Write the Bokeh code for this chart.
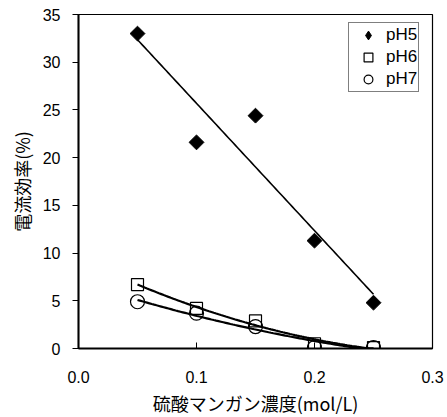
import numpy as np
from bokeh.plotting import figure
from bokeh.models import Range1d, FixedTicker, Legend, LegendItem
from bokeh.embed import file_html
from bokeh.resources import INLINE

conc = [0.05, 0.10, 0.15, 0.20, 0.25]
ph5 = [33.0, 21.6, 24.4, 11.3, 4.8]
ph6 = [6.7, 4.2, 2.9, 0.5, 0.1]
ph7 = [4.9, 3.7, 2.3, 0.1, 0.1]
x_ticks = [0.0, 0.1, 0.2, 0.3]
y_ticks = [0, 5, 10, 15, 20, 25, 30, 35]

p = figure(frame_width=354, frame_height=334, output_backend="svg", toolbar_location=None,
           x_range=Range1d(0, 0.3), y_range=Range1d(0, 35),
           min_border_left=78, min_border_right=15, min_border_top=14, min_border_bottom=66)
p.grid.visible = False
p.outline_line_color = "black"
p.outline_line_width = 1.2

xs = np.linspace(conc[0], conc[-1], 100)
c5 = np.polyfit(conc, ph5, 1)
c6 = np.polyfit(conc, ph6, 2)
c7 = np.polyfit(conc, ph7, 2)
p.line(xs, np.polyval(c5, xs), line_color="black", line_width=1.6)
p.line(xs, np.clip(np.polyval(c6, xs), 0, None), line_color="black", line_width=2.2)
p.line(xs, np.clip(np.polyval(c7, xs), 0, None), line_color="black", line_width=2.2)

r5 = p.scatter(conc, ph5, marker="square", size=10.5, angle=np.pi / 4,
               fill_color="black", line_color="black")
r6 = p.scatter(conc, ph6, marker="square", size=12, fill_color="white",
               fill_alpha=0, line_color="black", line_width=1.2)
r7 = p.scatter(conc, ph7, marker="circle", size=14, fill_color="white",
               fill_alpha=0, line_color="black", line_width=1.2)
# legend-only renderer (diamond swatch); NaN point is not drawn in the plot
l5 = p.scatter([np.nan], [np.nan], marker="diamond", fill_color="black", line_color="black")

font = "Liberation Sans"
jp = "Noto Sans CJK JP"
for ax in (p.xaxis[0], p.yaxis[0]):
    ax.axis_line_width = 2
    ax.axis_line_color = "black"
    ax.major_tick_line_color = "black"
    ax.major_tick_line_width = 1
    ax.minor_tick_line_color = None
    ax.major_label_text_font = font
    ax.major_label_text_font_size = "16px"
    ax.major_label_text_color = "black"
    ax.axis_label_text_font = jp
    ax.axis_label_text_font_size = "18px"
    ax.axis_label_text_font_style = "normal"
    ax.axis_label_text_color = "black"

p.xaxis.ticker = FixedTicker(ticks=x_ticks)
p.xaxis.major_label_overrides = {t: f"{t:.1f}" for t in x_ticks}
p.xaxis.major_tick_in = 6
p.xaxis.major_tick_out = 0
p.xaxis.major_label_standoff = 22
p.xaxis.axis_label = "硫酸マンガン濃度(mol/L)"
p.xaxis.axis_label_standoff = 4

p.yaxis.ticker = FixedTicker(ticks=y_ticks)
p.yaxis.major_tick_in = 0
p.yaxis.major_tick_out = 6
p.yaxis.major_label_standoff = 12
p.yaxis.axis_label = "電流効率(%)"
p.yaxis.axis_label_standoff = 5

legend = Legend(items=[LegendItem(label="pH5", renderers=[l5]),
                       LegendItem(label="pH6", renderers=[r6]),
                       LegendItem(label="pH7", renderers=[r7])],
                location=(270, 256))
legend.label_text_font = font
legend.label_text_font_size = "17px"
legend.label_text_color = "black"
legend.label_standoff = -8
legend.glyph_width = 36
legend.glyph_height = 22
legend.label_height = 22
legend.spacing = 0
legend.padding = 1
legend.margin = 0
legend.border_line_color = "black"
legend.border_line_width = 1
legend.background_fill_alpha = 1
p.add_layout(legend, "center")

open("out.html", "w").write(file_html(p, INLINE))
